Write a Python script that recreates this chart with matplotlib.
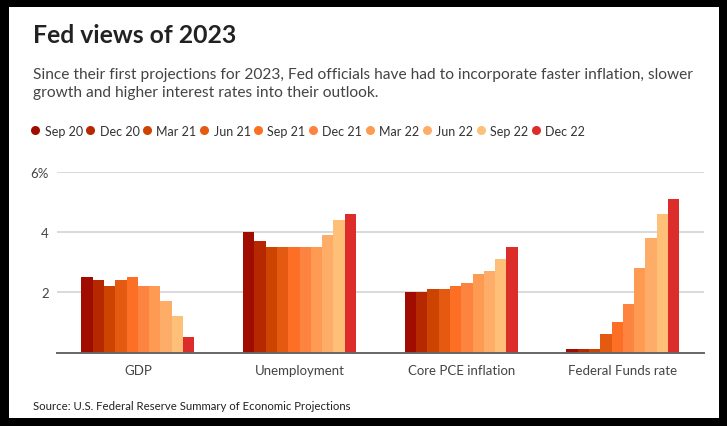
import numpy as np
import matplotlib
matplotlib.use('Agg')
import matplotlib.pyplot as plt
from matplotlib.patches import Rectangle
from matplotlib.lines import Line2D

# data
categories = ['GDP', 'Unemployment', 'Core PCE inflation', 'Federal Funds rate']
projections = ['Sep 20', 'Dec 20', 'Mar 21', 'Jun 21', 'Sep 21',
               'Dec 21', 'Mar 22', 'Jun 22', 'Sep 22', 'Dec 22']
gdp = [2.5, 2.4, 2.2, 2.4, 2.5, 2.2, 2.2, 1.7, 1.2, 0.5]
unemployment = [4.0, 3.7, 3.5, 3.5, 3.5, 3.5, 3.5, 3.9, 4.4, 4.6]
core_pce = [2.0, 2.0, 2.1, 2.1, 2.2, 2.3, 2.6, 2.7, 3.1, 3.5]
fed_funds = [0.1, 0.1, 0.1, 0.6, 1.0, 1.6, 2.8, 3.8, 4.6, 5.1]
yticks = [2, 4, 6]
ytick_labels = ['2', '4', '6%']

colors = ['#a00d00', '#b52800', '#cc4400', '#e35a10', '#fd6f24',
          '#fd8440', '#fe9a52', '#fead68', '#fec078', '#dc2d2a']

plt.rcParams['font.family'] = ['Lato', 'DejaVu Sans']

W, H = 727, 427
fig = plt.figure(figsize=(W / 100, H / 100), dpi=100)
fig.patch.set_facecolor('black')
# white card inside the black frame
fig.patches.append(Rectangle((9 / W, 8 / H), (719 - 9) / W, (419 - 8) / H,
                             transform=fig.transFigure, facecolor='white',
                             edgecolor='none', zorder=-5))

ax = fig.add_axes([57 / W, 1 - 353.5 / H, (703.7 - 57) / W, (353.5 - 173.3) / H])
ax.set_facecolor('none')
ax.set_zorder(2)

values = np.array([gdp, unemployment, core_pce, fed_funds])
x = np.arange(len(categories))
n = len(projections)
group_w = 0.7
bw = group_w / n
for i in range(n):
    ax.bar(x - group_w / 2 + bw * (i + 0.5), values[:, i], width=bw,
           color=colors[i], linewidth=0, zorder=3)

ax.set_xlim(-0.5, 3.5)
ax.set_ylim(0, 6)
ax.set_yticks(yticks)
ax.set_yticklabels(ytick_labels)
ax.set_xticks(x)
ax.set_xticklabels(categories)
ax.grid(axis='y', color='#d0d0d0', linewidth=1.1, zorder=0)
for s in ['top', 'right', 'left']:
    ax.spines[s].set_visible(False)
ax.spines['bottom'].set_color('#666666')
ax.spines['bottom'].set_linewidth(1.4)
ax.spines['bottom'].set_zorder(4)
ax.tick_params(axis='y', length=0, pad=6, labelsize=9.5, labelcolor='#444444')
ax.tick_params(axis='x', length=0, pad=8, labelsize=9.5, labelcolor='#444444')

# title, subtitle, source
fig.text(33 / W, 1 - 43 / H, 'Fed views of 2023', fontsize=17.8, fontweight='bold',
         color='#222222', va='baseline')
fig.text(33 / W, 1 - 79 / H,
         'Since their first projections for 2023, Fed officials have had to incorporate faster inflation, slower',
         fontsize=11.2, color='#444444', va='baseline')
fig.text(33 / W, 1 - 97 / H, 'growth and higher interest rates into their outlook.',
         fontsize=11.2, color='#444444', va='baseline')
fig.text(33 / W, 1 - 410 / H, 'Source: U.S. Federal Reserve Summary of Economic Projections',
         fontsize=8.2, color='#222222', va='baseline')

# legend row
handles = [Line2D([], [], marker='o', linestyle='none', markersize=6.5,
                  markerfacecolor=c, markeredgewidth=0) for c in colors]
fig.legend(handles, projections, loc='center left', bbox_to_anchor=(31 / W, 1 - 131.5 / H),
           ncol=n, frameon=False, fontsize=9, handletextpad=0.4, columnspacing=0.25,
           handlelength=0.7, borderaxespad=0, borderpad=0, labelcolor='#333333')

fig.savefig('out.png', dpi=100, facecolor=fig.get_facecolor())
